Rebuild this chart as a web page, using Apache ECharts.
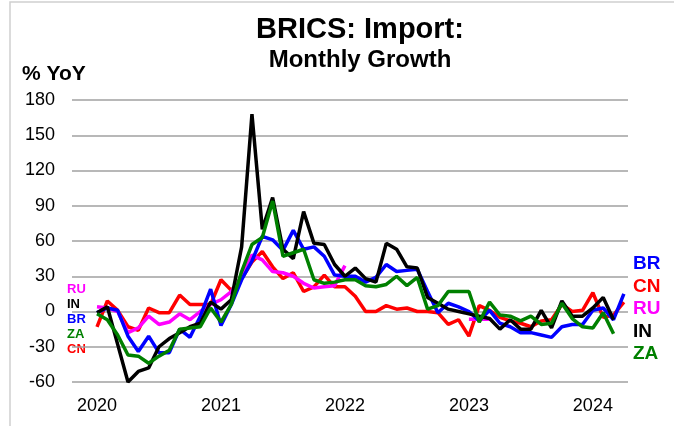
<!DOCTYPE html>
<html>
<head>
<meta charset="utf-8">
<script src="https://cdn.jsdelivr.net/npm/echarts@6/dist/echarts.min.js"></script>
<style>
  html, body { margin: 0; padding: 0; background: #fff; }
  #chart { width: 674px; height: 426px; }
</style>
</head>
<body>
<div id="chart"></div>
<script>
// months since Jan 2020 (0 .. 51 = Apr 2024)
var yearTicks = [0, 12, 24, 36, 48];
var yearLabels = ['2020', '2021', '2022', '2023', '2024'];

// % YoY
var brData = [-1, 3, 1, -21, -34, -21, -35, -35, -15, -22, -4, 19,
  -12, 6, 27, 43, 64, 61, 52, 69, 53, 55, 47, 31,
  30, 30, 25, 29, 40, 34, 35, 36, 17, -1, 7, 4,
  0, -8, 1, -10, -13, -18, -18, -20, -22, -13, -11, -11,
  1, 3, -7, 15];
var cnData = [-13, 9, 1, -13, -16, 3, -1, -1, 14, 6, 6, 6,
  27, 18, 28, 42, 51, 38, 28, 33, 17, 21, 31, 21,
  21, 13, 0, 0, 5, 2, 3, 0, 0, -1, -11, -7,
  -21, 5, 1, -5, -8, -10, -13, -8, -7, 6, 0, 1,
  16, -5, -3, 8];
var ruData = [4, 3, 0, -18, -14, -4, -11, -9, -2, -7, 0, 6,
  10, 17, 30, 48, 44, 34, 33, 30, 24, 20, 21, 22,
  39, null, null, null, null, null, null, null, null, null, null, null,
  -6.5, -6.5, -6.5];
var inData = [-1, 4, -28, -60, -51, -48, -30, -23, -18, -13, -10, 8,
  2, 10, 55, 168, 70, 97, 53, 45, 85, 58, 57, 40,
  30, 37, 28, 25, 58, 53, 38, 37, 12, 7, 2, 0,
  -2, -4, -6, -15, -7, -15, -15, 1, -14, 9, -4, -4,
  3, 12, -7];
var zaData = [-2, -7, -20, -37, -38, -44, -38, -33, -15, -14, -13, 3,
  -9, 6, 34, 57, 63, 94, 47, 50, 53, 27, 24, 25,
  27, 27, 22, 21, 23, 30, 22, 29, 2, 5, 17, 17,
  17, -9, 8, -3, -4, -8, -4, -11, -10, 7, -6, -13,
  -14, -1, -19];

function pairs(arr) {
  return arr.map(function (v, i) { return [i, v]; });
}

function line(name, color, arr) {
  return {
    name: name,
    type: 'line',
    data: pairs(arr),
    showSymbol: false,
    connectNulls: false,
    lineStyle: { color: color, width: 3.5 },
    itemStyle: { color: color }
  };
}

var font = 'Liberation Sans, Arial, sans-serif';

function label(text, x, y, color, size, align) {
  return {
    type: 'text',
    x: x,
    y: y,
    style: {
      text: text,
      fill: color,
      font: 'bold ' + size + 'px ' + font,
      align: align || 'left',
      verticalAlign: 'middle'
    }
  };
}

var chart = echarts.init(document.getElementById('chart'));
chart.setOption({
  animation: false,
  backgroundColor: '#fff',
  grid: { left: 72, right: 46, top: 100, bottom: 44 },
  xAxis: {
    type: 'value',
    min: -2.42,
    max: 51.4,
    axisLine: { show: false },
    axisTick: { show: false },
    splitLine: { show: false },
    axisLabel: {
      customValues: yearTicks,
      margin: 15,
      fontFamily: font,
      fontSize: 18,
      color: '#000',
      formatter: function (v) { return yearLabels[yearTicks.indexOf(v)]; }
    }
  },
  yAxis: {
    type: 'value',
    min: -60,
    max: 180,
    interval: 30,
    axisLine: { show: false },
    axisTick: { show: false },
    axisLabel: { margin: 17, fontFamily: font, fontSize: 18, color: '#000' },
    splitLine: { lineStyle: { color: '#a0a0a0', width: 1.5 } }
  },
  series: [
    line('CN', '#ff0000', cnData),
    line('RU', '#ff00ff', ruData),
    line('BR', '#0000ff', brData),
    line('IN', '#000000', inData),
    line('ZA', '#008000', zaData)
  ],
  graphic: [
    // frame
    {
      type: 'rect',
      shape: { x: 10, y: 2, width: 700, height: 460 },
      style: { fill: 'none', stroke: '#d0d0d0', lineWidth: 1.5 },
      silent: true
    },
    // titles
    label('BRICS: Import:', 360, 30, '#000', 29, 'center'),
    label('Monthly Growth', 360, 60, '#000', 24, 'center'),
    label('% YoY', 22, 74, '#000', 21),
    // left labels
    label('RU', 67, 289, '#ff00ff', 13),
    label('IN', 67, 304, '#000000', 13),
    label('BR', 67, 319, '#0000ff', 13),
    label('ZA', 67, 334, '#008000', 13),
    label('CN', 67, 349, '#ff0000', 13),
    // right labels
    label('BR', 633, 264, '#0000ff', 19),
    label('CN', 633, 287, '#ff0000', 19),
    label('RU', 633, 309, '#ff00ff', 19),
    label('IN', 633, 332, '#000000', 19),
    label('ZA', 633, 354, '#008000', 19)
  ]
});
</script>
</body>
</html>
